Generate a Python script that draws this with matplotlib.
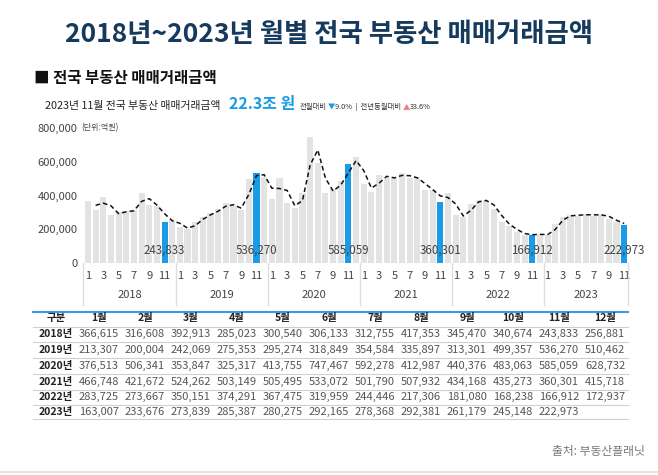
import numpy as np
import pandas as pd
import matplotlib.pyplot as plt
from matplotlib.transforms import blended_transform_factory

plt.rcParams['font.family'] = ['Noto Sans CJK KR', 'DejaVu Sans']

years = [2018, 2019, 2020, 2021, 2022, 2023]
months = ['1월', '2월', '3월', '4월', '5월', '6월', '7월', '8월', '9월', '10월', '11월', '12월']
y2018 = [366615, 316608, 392913, 285023, 300540, 306133, 312755, 417353, 345470, 340674, 243833, 256881]
y2019 = [213307, 200004, 242069, 275353, 295274, 318849, 354584, 335897, 313301, 499357, 536270, 510462]
y2020 = [376513, 506341, 353847, 325317, 413755, 747467, 592278, 412987, 440376, 483063, 585059, 628732]
y2021 = [466748, 421672, 524262, 503149, 505495, 533072, 501790, 507932, 434168, 435273, 360301, 415718]
y2022 = [283725, 273667, 350151, 374291, 367475, 319959, 244446, 217306, 181080, 168238, 166912, 172937]
y2023 = [163007, 233676, 273839, 285387, 280275, 292165, 278368, 292381, 261179, 245148, 222973]
rows = [y2018, y2019, y2020, y2021, y2022, y2023]

values = [v for r in rows for v in r]
month_no = [m + 1 for r in rows for m in range(len(r))]
x = np.arange(len(values))
avg2 = pd.Series(values).rolling(2).mean()

W, H = 658, 475
fig = plt.figure(figsize=(W / 100, H / 100), dpi=100)

# overlay in pixel coordinates for titles and table
ov = fig.add_axes([0, 0, 1, 1])
ov.set_xlim(0, W)
ov.set_ylim(H, 0)
ov.axis('off')

ov.text(329, 35, '2018년~2023년 월별 전국 부동산 매매거래금액', ha='center', va='center',
        fontsize=19, fontweight='bold', color='#163a5c')
ov.text(34, 78, '■ 전국 부동산 매매거래금액', ha='left', va='center',
        fontsize=11.2, fontweight='bold', color='#111111')
ov.text(45, 106, '2023년 11월 전국 부동산 매매거래금액', ha='left', va='center',
        fontsize=7.8, color='#222222')
ov.text(229, 104, '22.3조 원', ha='left', va='center', fontsize=11.5,
        fontweight='bold', color='#1a9be6')
ov.text(300, 107, '전월대비', ha='left', va='center', fontsize=5.3, color='#333333')
ov.text(328, 107, '▼', ha='left', va='center', fontsize=5.3, color='#1a9be6')
ov.text(335, 107, '9.0%  |  전년동월대비', ha='left', va='center', fontsize=5.3, color='#333333')
ov.text(403, 107, '▲', ha='left', va='center', fontsize=5.3, color='#f07a88')
ov.text(410, 107, '33.6%', ha='left', va='center', fontsize=5.3, color='#333333')
ov.text(81, 128, '(단위:억원)', ha='left', va='center', fontsize=5.8, color='#444444', zorder=10)

# table
col_x = [56] + [99 + 46 * i for i in range(12)]
ov.text(col_x[0], 318, '구분', ha='center', va='center', fontsize=7.5, fontweight='bold', color='#222222')
for i, m in enumerate(months):
    ov.text(col_x[i + 1], 318, m, ha='center', va='center', fontsize=7.5, fontweight='bold', color='#222222')
row_y = [334, 350, 366, 382, 397, 412]
for yr, r, ry in zip(years, rows, row_y):
    ov.text(col_x[0], ry, f'{yr}년', ha='center', va='center', fontsize=7.5, fontweight='bold', color='#222222')
    for i, v in enumerate(r):
        ov.text(col_x[i + 1], ry, f'{v:,}', ha='center', va='center', fontsize=8, color='#555555')
ov.plot([33, 628], [312, 312], color='#3b9ae1', lw=1.5)
for ly in [327, 342, 358, 374, 390, 405, 419]:
    ov.plot([33, 628], [ly, ly], color='#d0d0d0', lw=0.8)

ov.text(645, 451, '출처: 부동산플래닛', ha='right', va='center', fontsize=8.5, color='#777777')
ov.plot([0, W], [472, 472], color='#dddddd', lw=1.2)

# chart
ax = fig.add_axes([83 / W, (H - 263) / H, (628 - 83) / W, (263 - 128) / H])
ax.patch.set_visible(False)
colors = ['#1a9be6' if m == 11 else '#e3e3e3' for m in month_no]
ax.bar(x, values, width=0.8, color=colors, zorder=1)
ax.plot(x, avg2, color='#111111', lw=1.1, ls=(0, (3, 2)), zorder=3)
for xi, v, m in zip(x, values, month_no):
    if m == 11:
        ax.text(xi, 77000, f'{v:,}', ha='center', va='center', fontsize=8.3, color='#444444', zorder=4)

ax.set_xlim(-0.65, len(values) - 0.5)
ax.set_ylim(0, 800000)
ax.set_yticks([0, 200000, 400000, 600000, 800000])
ax.set_yticklabels([f'{t:,}' for t in [0, 200000, 400000, 600000, 800000]])
tick_pos = [xi for xi, m in zip(x, month_no) if m % 2 == 1]
ax.set_xticks(tick_pos)
ax.set_xticklabels([str(month_no[i]) for i in tick_pos])
ax.tick_params(axis='both', length=0, labelsize=8, colors='#444444')
ax.tick_params(axis='y', pad=4)
ax.tick_params(axis='x', pad=6)
for s in ax.spines.values():
    s.set_visible(False)

trans = blended_transform_factory(ax.transData, ax.transAxes)
start = 0
for yr, r in zip(years, rows):
    end = start + len(r)
    ax.text((start + end - 1) / 2, -0.24, str(yr), transform=trans, ha='center', va='center',
            fontsize=8, color='#444444')
    start = end
seps = [-0.65] + [sum(len(r) for r in rows[:k + 1]) - 0.5 for k in range(len(rows))]
for sx in seps:
    ax.plot([sx, sx], [0, -0.31], transform=trans, color='#dddddd', lw=1, clip_on=False)

fig.savefig('out.png', dpi=100)
